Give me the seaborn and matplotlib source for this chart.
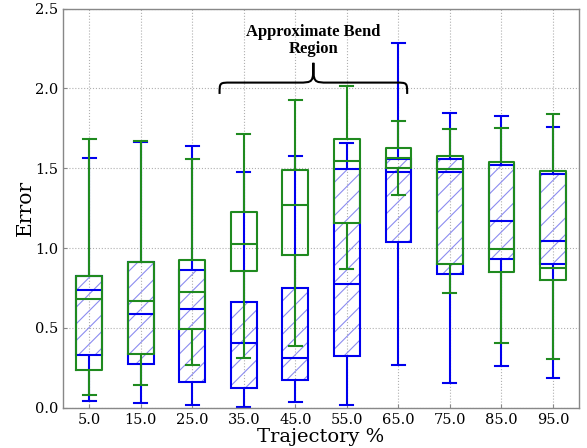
import numpy as np
import pandas as pd
import matplotlib
matplotlib.use("Agg")
import matplotlib.pyplot as plt
from matplotlib.path import Path
from matplotlib.patches import PathPatch
import seaborn as sns

categories = ["5.0", "15.0", "25.0", "35.0", "45.0", "55.0", "65.0", "75.0", "85.0", "95.0"]

# green series (unhatched): lower whisker, Q1, median, Q3, upper whisker
green_lo  = [0.082, 0.144, 0.266, 0.310, 0.385, 0.868, 1.334, 0.721, 0.404, 0.305]
green_q1  = [0.238, 0.337, 0.495, 0.853, 0.957, 1.156, 1.501, 0.901, 0.849, 0.801]
green_med = [0.683, 0.669, 0.723, 1.026, 1.271, 1.542, 1.565, 1.495, 0.993, 0.874]
green_q3  = [0.826, 0.913, 0.922, 1.227, 1.490, 1.683, 1.626, 1.574, 1.539, 1.480]
green_hi  = [1.683, 1.668, 1.559, 1.716, 1.929, 2.015, 1.793, 1.747, 1.754, 1.840]

# blue series (hatched)
blue_lo  = [0.040, 0.031, 0.017, 0.006, 0.038, 0.015, 0.266, 0.157, 0.260, 0.184]
blue_q1  = [0.332, 0.276, 0.163, 0.125, 0.174, 0.326, 1.035, 0.838, 0.934, 0.903]
blue_med = [0.738, 0.585, 0.617, 0.406, 0.313, 0.774, 1.476, 1.473, 1.171, 1.041]
blue_q3  = [0.826, 0.913, 0.863, 0.665, 0.749, 1.495, 1.557, 1.559, 1.520, 1.461]
blue_hi  = [1.564, 1.665, 1.641, 1.478, 1.574, 1.657, 2.287, 1.846, 1.824, 1.756]

annot_text = "Approximate Bend\nRegion"
bend_span = (2.53, 6.17)   # in category index units


def long_frame(lo, q1, med, q3, hi):
    rows = []
    for c, a, b, m, d, e in zip(categories, lo, q1, med, q3, hi):
        for v in (a, b, m, d, e):
            rows.append({"traj": c, "err": v})
    return pd.DataFrame(rows)


df_green = long_frame(green_lo, green_q1, green_med, green_q3, green_hi)
df_blue = long_frame(blue_lo, blue_q1, blue_med, blue_q3, blue_hi)

GREEN = "#1f8a1f"
BLUE = "#0000ee"
HATCH = "#8c8cf0"

plt.rcParams["font.family"] = ["DejaVu Serif"]
plt.rcParams["hatch.linewidth"] = 0.8

fig = plt.figure(figsize=(5.87, 4.48), dpi=100)
ax = fig.add_axes([0.108, 0.090, 0.878, 0.891])

lw = 1.5
sns.boxplot(data=df_blue, x="traj", y="err", order=categories, ax=ax,
            whis=(0, 100), width=0.5, fill=True, color="white", linecolor=BLUE,
            linewidth=lw, showfliers=False,
            boxprops=dict(facecolor="none", edgecolor=BLUE, zorder=2.2),
            medianprops=dict(color=BLUE, zorder=2.3),
            whiskerprops=dict(color=BLUE, zorder=2.1),
            capprops=dict(color=BLUE, zorder=2.1))
blue_boxes = list(ax.patches)
for p in blue_boxes:
    hp = PathPatch(p.get_path(), transform=p.get_transform(), facecolor="none",
                   edgecolor=HATCH, linewidth=0, hatch="//", zorder=2.0)
    ax.add_patch(hp)

sns.boxplot(data=df_green, x="traj", y="err", order=categories, ax=ax,
            whis=(0, 100), width=0.5, fill=False, color=GREEN,
            linewidth=lw, showfliers=False,
            boxprops=dict(color=GREEN, zorder=2.5),
            medianprops=dict(color=GREEN, zorder=2.5),
            whiskerprops=dict(color=GREEN, zorder=2.5),
            capprops=dict(color=GREEN, zorder=2.5))

ax.set_xlim(-0.5, len(categories) - 0.5)
ax.set_ylim(0, 2.5)
ax.set_yticks([0.0, 0.5, 1.0, 1.5, 2.0, 2.5])
ax.set_yticklabels(["0.0", "0.5", "1.0", "1.5", "2.0", "2.5"])
ax.set_axisbelow(True)
ax.grid(True, axis="both", linestyle=":", color="#b0b0b0", linewidth=0.8)
ax.set_xlabel("Trajectory %", fontsize=14, labelpad=1)
ax.set_ylabel("Error", fontsize=14.5, labelpad=0)
ax.tick_params(axis="both", labelsize=10.5, direction="in", length=3, color="#888888")
for s in ax.spines.values():
    s.set_color("#888888")
    s.set_linewidth(1.0)

# curly brace annotation
x0, x1 = bend_span
xm = (x0 + x1) / 2
y_end, y_bar, y_tip = 1.965, 2.036, 2.16
r = 0.3
verts = [(x0, y_end), (x0, y_bar), (x0, y_bar), (x0 + 0.22, y_bar),
         (xm - r, y_bar),
         (xm, y_bar), (xm, y_bar), (xm, y_tip),
         (xm, y_bar), (xm, y_bar), (xm + r, y_bar),
         (x1 - 0.22, y_bar),
         (x1, y_bar), (x1, y_bar), (x1, y_end)]
codes = [Path.MOVETO, Path.CURVE4, Path.CURVE4, Path.CURVE4,
         Path.LINETO,
         Path.CURVE4, Path.CURVE4, Path.CURVE4,
         Path.CURVE4, Path.CURVE4, Path.CURVE4,
         Path.LINETO,
         Path.CURVE4, Path.CURVE4, Path.CURVE4]
ax.add_patch(PathPatch(Path(verts, codes), facecolor="none", edgecolor="black",
                       linewidth=1.5, zorder=3))
ax.text(xm, 2.30, annot_text, ha="center", va="center", fontsize=12,
        fontweight="bold", family=["Liberation Serif"], linespacing=1.15)

fig.savefig("out.png", dpi=100)
